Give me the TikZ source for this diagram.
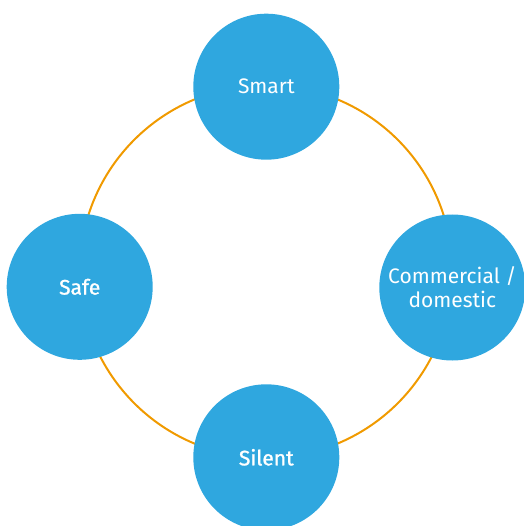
\documentclass[tikz,border=0pt]{standalone}
\usepackage{fontspec}
\setmainfont{Fira Sans}
\newfontfamily\medfont{Fira Sans}[FakeBold=1.2]
\definecolor{nodeblue}{HTML}{2FA7DF}
\definecolor{ringorange}{HTML}{F09A00}
\begin{document}
\begin{tikzpicture}[x=1pt,y=-1pt,
  bubble/.style={circle,fill=nodeblue,draw=none,minimum size=146pt,inner sep=0pt,
    text=white,font=\fontsize{21}{24}\selectfont,align=center},
  ring/.style={draw=ringorange,line width=2pt}]
\useasboundingbox (0,0) rectangle (523,526);
\coordinate (c) at (266,271.5);
\draw[ring] (c) circle[radius=186.3];
\node[bubble] (smart) at (266.3,86.7) {Smart};
\node[bubble] (comm) at (452.3,287.5) {Commercial /\\domestic};
\node[bubble,font=\fontsize{21}{24}\medfont] (silent) at (266.3,457.3) {Silent};
\node[bubble,font=\fontsize{21}{24}\medfont] (safe) at (79.7,286.8) {Safe};
\end{tikzpicture}
\end{document}
